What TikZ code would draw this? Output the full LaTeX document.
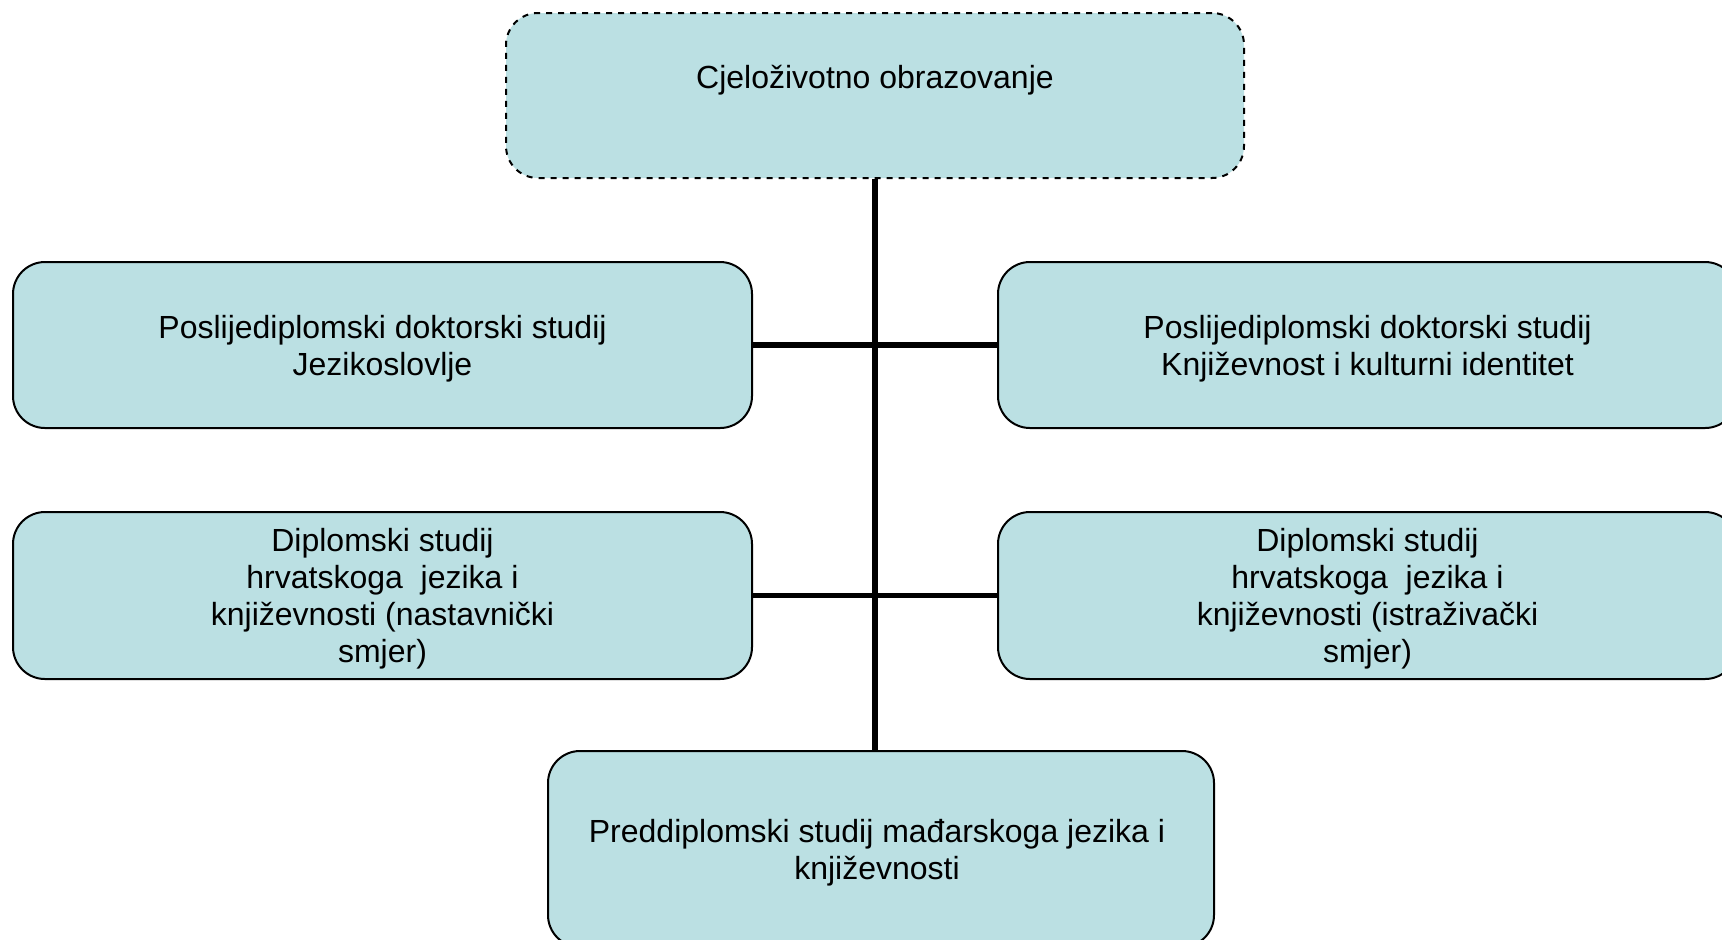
\documentclass[tikz,border=0pt]{standalone}
\usepackage{fontspec}
\setmainfont{Liberation Sans}
\definecolor{boxfill}{HTML}{BBE0E3}
\tikzset{
  unit/.style={draw=black, line width=1pt, fill=boxfill, rounded corners=16pt,
    inner sep=0pt},
  caption/.style={align=center, inner sep=0pt,
    font=\fontsize{16pt}{18.5pt}\selectfont},
  link/.style={line width=2.8pt, draw=black}
}
\begin{document}
\begin{tikzpicture}[x=0.5pt,y=-0.5pt]
  \clip (0,0) rectangle (1722,939);
  \fill[white] (0,0) rectangle (1722,939);

  % lifelong learning (dashed frame)
  \node[unit, dashed, minimum width=369pt, minimum height=82.5pt] (top) at (875,95.5) {};
  \node[caption] (top-t) at ([yshift=-2.7pt]top.center)
    {Cjeloživotno obrazovanje\\ \strut};

  % doctoral studies
  \node[unit, minimum width=369.5pt, minimum height=83pt] (l1) at (382.5,345) {};
  \node[caption] (l1-t) at ([yshift=-1.7pt]l1.center)
    {Poslijediplomski doktorski studij\\Jezikoslovlje};
  \node[unit, minimum width=369.5pt, minimum height=83pt] (r1) at (1367.5,345) {};
  \node[caption] (r1-t) at ([yshift=-1.7pt]r1.center)
    {Poslijediplomski doktorski studij\\Književnost i kulturni identitet};

  % graduate studies
  \node[unit, minimum width=369.5pt, minimum height=83.5pt] (l2) at (382.5,595.5) {};
  \node[caption] (l2-t) at ([yshift=-1.7pt]l2.center)
    {Diplomski studij\\hrvatskoga~ jezika i\\književnosti (nastavnički\\smjer)};
  \node[unit, minimum width=369.5pt, minimum height=83.5pt] (r2) at (1367.5,595.5) {};
  \node[caption] (r2-t) at ([yshift=-1.7pt]r2.center)
    {Diplomski studij\\hrvatskoga~ jezika i\\književnosti (istraživački\\smjer)};

  % undergraduate study
  \node[unit, minimum width=333pt, minimum height=98pt] (bot) at (881,849) {};
  \node[caption] (bot-t) at ([xshift=-2pt,yshift=-1.7pt]bot.center)
    {Preddiplomski studij mađarskoga jezika i\\književnosti};

  % connectors
  \draw[link] (top.south) -- (top.south |- bot.north);
  \draw[link] (l1.east) -- (r1.west);
  \draw[link] (l2.east) -- (r2.west);
\end{tikzpicture}
\end{document}
